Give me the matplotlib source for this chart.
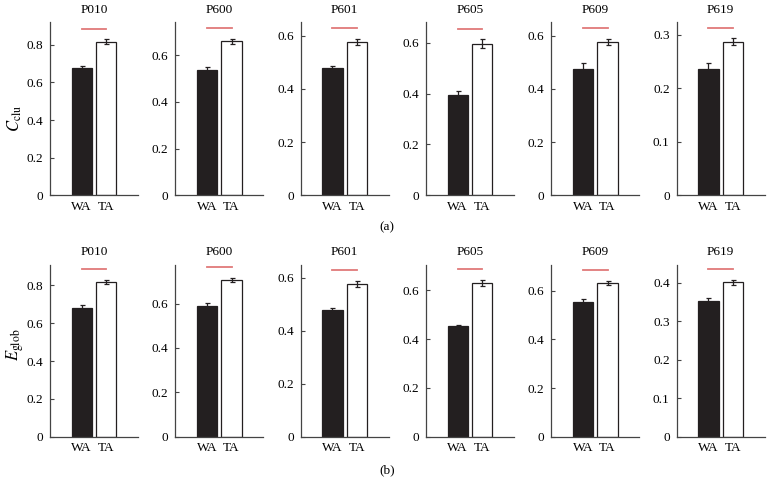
import numpy as np
import matplotlib
matplotlib.use('Agg')
import matplotlib.pyplot as plt

plt.rcParams['font.family'] = ['Liberation Serif', 'DejaVu Serif']
plt.rcParams['mathtext.fontset'] = 'stix'

subjects = ['P010', 'P600', 'P601', 'P605', 'P609', 'P619']
groups = ['WA', 'TA']

# (a) clustering coefficient
clu_wa = [0.675, 0.537, 0.479, 0.395, 0.476, 0.235]
clu_wa_err = [0.015, 0.012, 0.007, 0.016, 0.020, 0.012]
clu_ta = [0.817, 0.658, 0.576, 0.596, 0.576, 0.287]
clu_ta_err = [0.012, 0.012, 0.012, 0.018, 0.012, 0.007]
clu_sig = [0.885, 0.714, 0.627, 0.652, 0.629, 0.313]
clu_top = [0.92, 0.74, 0.65, 0.68, 0.65, 0.323]
clu_ticks = [[0, 0.2, 0.4, 0.6, 0.8], [0, 0.2, 0.4, 0.6], [0, 0.2, 0.4, 0.6],
             [0, 0.2, 0.4, 0.6], [0, 0.2, 0.4, 0.6], [0, 0.1, 0.2, 0.3]]

# (b) global efficiency
glob_wa = [0.682, 0.590, 0.479, 0.453, 0.553, 0.353]
glob_wa_err = [0.013, 0.012, 0.007, 0.007, 0.012, 0.008]
glob_ta = [0.817, 0.707, 0.576, 0.629, 0.632, 0.401]
glob_ta_err = [0.011, 0.010, 0.012, 0.013, 0.010, 0.006]
glob_sig = [0.885, 0.765, 0.628, 0.687, 0.686, 0.435]
glob_top = [0.91, 0.776, 0.65, 0.706, 0.708, 0.447]
glob_ticks = [[0, 0.2, 0.4, 0.6, 0.8], [0, 0.2, 0.4, 0.6], [0, 0.2, 0.4, 0.6],
              [0, 0.2, 0.4, 0.6], [0, 0.2, 0.4, 0.6], [0, 0.1, 0.2, 0.3, 0.4]]

W, H = 774, 496
fig = plt.figure(figsize=(W / 100, H / 100), dpi=100)

dark = '#231f20'
red = '#e07a7a'


def fmt(v):
    return '0' if v == 0 else f'{v:g}'


def panel(left_px, bottom_px, top_px, name, wa, wae, ta, tae, sig, top, ticks):
    ax = fig.add_axes([left_px / W, 1 - bottom_px / H, 88 / W, (bottom_px - top_px) / H])
    x = np.arange(2)
    ax.bar(x, [wa, ta], width=0.84, color=[dark, 'white'], edgecolor=dark, linewidth=0.9,
           yerr=[wae, tae], capsize=1.8, error_kw=dict(ecolor=dark, elinewidth=0.9, capthick=0.9))
    ax.plot([0, 1], [sig, sig], color=red, lw=1.3)
    ax.set_xlim(-1.3, 2.3)
    ax.set_ylim(0, top)
    ax.set_xticks(x)
    ax.set_xticklabels(groups, fontsize=9.5)
    ax.tick_params(axis='x', length=0, pad=4)
    ax.set_yticks(ticks)
    ax.set_yticklabels([fmt(t) for t in ticks], fontsize=9.5)
    ax.tick_params(axis='y', direction='in', length=3, width=0.8, pad=5, color='#444444')
    for s in ['top', 'right']:
        ax.spines[s].set_visible(False)
    for s in ['left', 'bottom']:
        ax.spines[s].set_color('#444444')
        ax.spines[s].set_linewidth(0.9)
    ax.set_title(name, fontsize=9.5, pad=7)
    return ax


lefts = [50 + i * 125.33 for i in range(6)]
for i in range(6):
    panel(lefts[i], 195.3, 22.3, subjects[i], clu_wa[i], clu_wa_err[i], clu_ta[i], clu_ta_err[i],
          clu_sig[i], clu_top[i], clu_ticks[i])
    panel(lefts[i], 436.7, 264.5, subjects[i], glob_wa[i], glob_wa_err[i], glob_ta[i], glob_ta_err[i],
          glob_sig[i], glob_top[i], glob_ticks[i])

fig.text(15 / W, 1 - 118 / H, r'$C_{\mathrm{clu}}$', rotation=90, ha='center', va='center', fontsize=12)
fig.text(15 / W, 1 - 345 / H, r'$E_{\mathrm{glob}}$', rotation=90, ha='center', va='center', fontsize=12)
fig.text(387 / W, 1 - 227 / H, '(a)', ha='center', va='center', fontsize=9.5)
fig.text(387 / W, 1 - 470 / H, '(b)', ha='center', va='center', fontsize=9.5)

fig.savefig('out.png', dpi=100)
